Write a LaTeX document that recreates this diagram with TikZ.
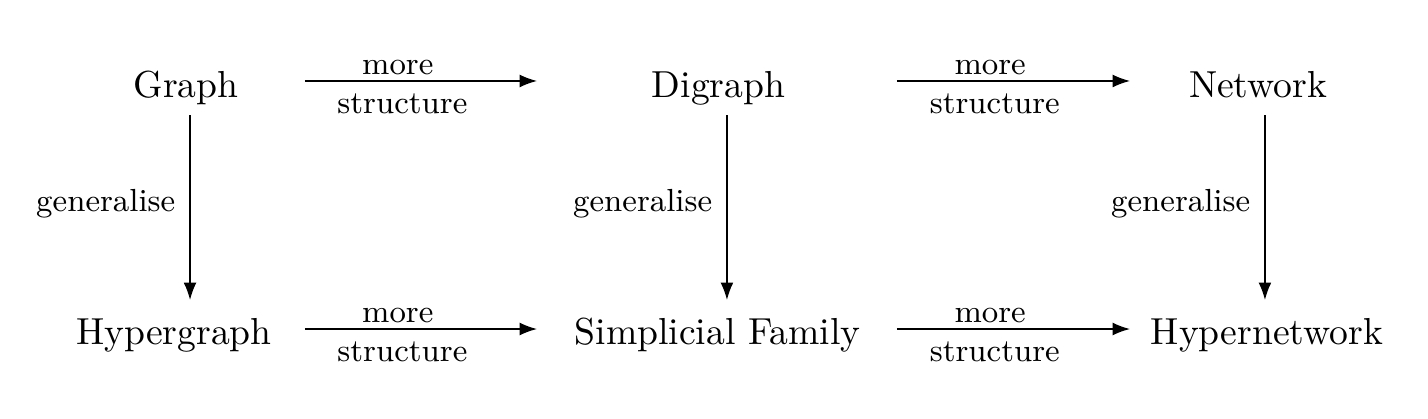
\documentclass[tikz,border=0pt]{standalone}
\usepackage{amsmath,amssymb}
\usetikzlibrary{arrows.meta,calc}

\begin{document}
\begin{tikzpicture}[x=1cm,y=1cm,
  obj/.style={anchor=base,inner sep=0pt},
  lbl/.style={font=\fontsize{8.5}{10}\selectfont},
  mor/.style={-{Latex[length=4.6pt,width=3.4pt]}}]
  \useasboundingbox (0,0) rectangle (13.346,-3.916);
  % objects
  \node[obj] (Gr) at (1.738,-0.916) {Graph};
  \node[obj] (Di) at (6.715,-0.916) {Digraph};
  \node[obj] (Ne) at (11.757,-0.916) {Network};
  \node[obj] (Hg) at (1.626,-3.224) {Hypergraph};
  \node[obj] (Sf) at (6.706,-3.224) {Simplicial Family};
  \node[obj] (Hn) at (11.841,-3.224) {Hypernetwork};
  % arrow ends, vertical
  \foreach \x/\nm in {1.776/va,6.794/vb,11.822/vc}{
    \coordinate (\nm1) at (\x,-1.075);
    \coordinate (\nm2) at (\x,-2.804);
  }
  % arrow ends, horizontal
  \foreach \y/\nm in {-0.757/t,-3.075/b}{
    \coordinate (\nm a1) at (2.850,\y);
    \coordinate (\nm a2) at (5.019,\y);
    \coordinate (\nm b1) at (8.383,\y);
    \coordinate (\nm b2) at (10.561,\y);
  }
  \foreach \nm in {va,vb,vc}
    \draw[mor] (\nm1) -- node[lbl,left=0.4pt,pos=0.48] {generalise} (\nm2);
  \foreach \nm in {ta,tb,ba,bb}
    \draw[mor] (\nm1) -- node[lbl,above=-2pt,pos=0.40] {more}
                         node[lbl,below,pos=0.42] {structure} (\nm2);
\end{tikzpicture}
\end{document}
